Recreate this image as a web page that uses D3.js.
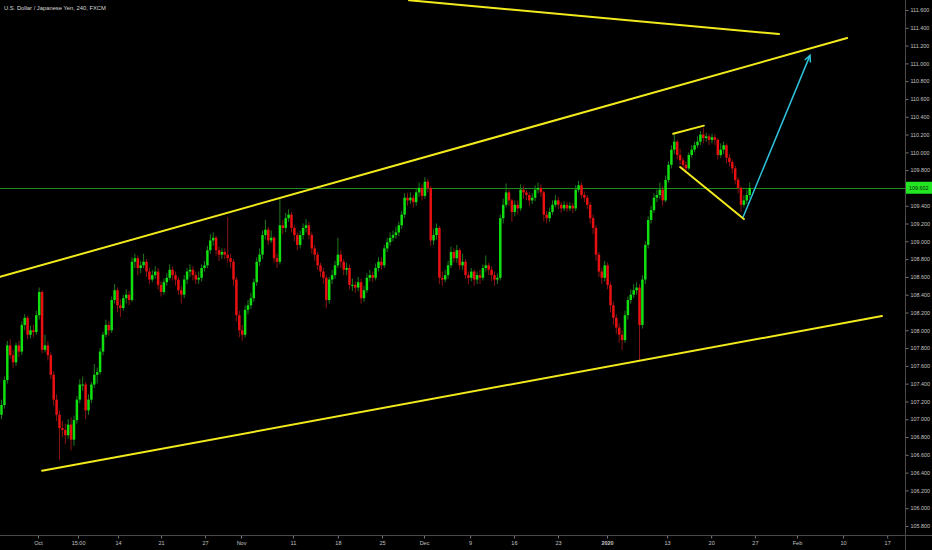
<!DOCTYPE html>
<html>
<head>
<meta charset="utf-8">
<script src="https://cdn.jsdelivr.net/npm/d3@7"></script>
<style>
  html, body { margin: 0; padding: 0; background: #000; }
  svg { display: block; }
</style>
</head>
<body>
<script>
// ---- DATA (USD/JPY, 8h candles) ----
const opens = [
107.05,107.16,107.44,107.83,107.72,107.64,107.83,107.76,108.06,108.14,
107.95,108.00,107.98,108.17,108.43,107.78,107.83,107.72,107.50,107.22,
107.05,106.90,106.88,106.82,106.94,106.77,106.99,107.22,107.39,107.39,
107.10,107.22,107.39,107.50,107.53,107.76,107.95,108.06,108.00,108.34,
108.45,108.28,108.25,108.36,108.40,108.34,108.77,108.81,108.70,108.73,
108.77,108.66,108.57,108.62,108.66,108.51,108.43,108.54,108.59,108.68,
108.62,108.57,108.45,108.40,108.57,108.66,108.68,108.62,108.57,108.59,
108.70,108.73,108.90,109.01,109.04,108.90,108.85,108.88,108.85,108.81,
108.77,108.57,108.17,108.00,107.95,108.23,108.28,108.36,108.54,108.77,
108.85,109.07,109.13,109.01,109.04,108.81,108.77,109.18,109.15,109.26,
109.30,109.15,109.07,108.96,109.07,109.15,109.18,109.07,108.92,108.85,
108.73,108.66,108.59,108.34,108.57,108.62,108.73,108.85,108.77,108.68,
108.70,108.51,108.51,108.48,108.54,108.36,108.45,108.59,108.62,108.59,
108.70,108.77,108.73,108.92,108.99,109.04,109.07,109.10,109.18,109.30,
109.49,109.46,109.49,109.44,109.55,109.60,109.51,109.67,109.60,109.01,
109.07,109.15,108.59,108.57,108.62,108.73,108.88,108.81,108.90,108.73,
108.77,108.62,108.59,108.66,108.57,108.62,108.59,108.70,108.73,108.68,
108.62,108.57,108.59,109.26,109.41,109.55,109.46,109.33,109.41,109.37,
109.58,109.55,109.52,109.46,109.49,109.58,109.60,109.55,109.30,109.26,
109.33,109.41,109.46,109.41,109.37,109.41,109.37,109.40,109.37,109.58,
109.63,109.52,109.49,109.41,109.26,109.15,108.85,108.66,108.59,108.73,
108.51,108.28,108.14,108.03,107.95,107.89,108.17,108.34,108.40,108.45,
108.48,108.06,108.57,108.96,109.24,109.35,109.49,109.52,109.58,109.46,
109.69,109.86,110.03,110.12,109.97,109.91,109.86,109.82,109.97,110.03,
110.08,110.12,110.20,110.16,110.18,110.14,110.17,110.14,109.97,110.03,
110.08,109.94,109.89,109.82,109.69,109.60,109.41,109.46,109.52];

const closes = [
107.16,107.44,107.83,107.72,107.64,107.83,107.76,108.06,108.14,107.95,
108.00,107.98,108.17,108.43,107.78,107.83,107.72,107.50,107.22,107.05,
106.90,106.88,106.82,106.94,106.77,106.99,107.22,107.39,107.39,107.10,
107.22,107.39,107.50,107.53,107.76,107.95,108.06,108.00,108.34,108.45,
108.28,108.25,108.36,108.40,108.34,108.77,108.81,108.70,108.73,108.77,
108.66,108.57,108.62,108.66,108.51,108.43,108.54,108.59,108.68,108.62,
108.57,108.45,108.40,108.57,108.66,108.68,108.62,108.57,108.59,108.70,
108.73,108.90,109.01,109.04,108.90,108.85,108.88,108.85,108.81,108.77,
108.57,108.17,108.00,107.95,108.23,108.28,108.36,108.54,108.77,108.85,
109.07,109.13,109.01,109.04,108.81,108.77,109.18,109.15,109.26,109.30,
109.15,109.07,108.96,109.07,109.15,109.18,109.07,108.92,108.85,108.73,
108.66,108.59,108.34,108.57,108.62,108.73,108.85,108.77,108.68,108.70,
108.51,108.51,108.48,108.54,108.36,108.45,108.59,108.62,108.59,108.70,
108.77,108.73,108.92,108.99,109.04,109.07,109.10,109.18,109.30,109.49,
109.46,109.49,109.44,109.55,109.60,109.51,109.67,109.60,109.01,109.07,
109.15,108.59,108.57,108.62,108.73,108.88,108.81,108.90,108.73,108.77,
108.62,108.59,108.66,108.57,108.62,108.59,108.70,108.73,108.68,108.62,
108.57,108.59,109.26,109.41,109.55,109.46,109.33,109.41,109.37,109.58,
109.55,109.52,109.46,109.49,109.58,109.60,109.55,109.30,109.26,109.33,
109.41,109.46,109.41,109.37,109.41,109.37,109.40,109.37,109.58,109.63,
109.52,109.49,109.41,109.26,109.15,108.85,108.66,108.59,108.73,108.51,
108.28,108.14,108.03,107.95,107.89,108.17,108.34,108.40,108.45,108.48,
108.06,108.57,108.96,109.24,109.35,109.49,109.52,109.58,109.46,109.69,
109.86,110.03,110.12,109.97,109.91,109.86,109.82,109.97,110.03,110.08,
110.12,110.20,110.16,110.18,110.14,110.17,110.14,109.97,110.03,110.08,
109.94,109.89,109.82,109.69,109.60,109.41,109.46,109.52,109.60];

const highs = [
107.22,107.48,107.88,107.90,107.78,107.86,107.88,108.10,108.18,108.16,
108.05,108.06,108.22,108.48,108.45,107.95,107.88,107.75,107.54,107.28,
107.10,106.98,106.95,107.00,107.02,107.04,107.26,107.45,107.48,107.42,
107.28,107.42,107.62,107.58,107.80,107.98,108.12,108.10,108.38,108.52,
108.48,108.35,108.40,108.46,108.44,108.82,108.86,108.84,108.78,108.86,
108.80,108.70,108.68,108.72,108.70,108.55,108.58,108.64,108.74,108.72,
108.66,108.60,108.50,108.62,108.70,108.74,108.72,108.66,108.66,108.74,
108.78,108.95,109.08,109.10,109.06,108.94,108.92,108.92,109.27,108.86,
108.80,108.60,108.22,108.06,108.28,108.34,108.42,108.58,108.82,108.92,
109.12,109.24,109.16,109.12,109.06,108.86,109.49,109.24,109.32,109.36,
109.33,109.18,109.10,109.12,109.20,109.25,109.22,109.10,108.96,108.88,
108.76,108.70,108.62,108.60,108.68,108.78,109.04,108.90,108.80,108.76,
108.74,108.58,108.55,108.60,108.58,108.50,108.64,108.68,108.66,108.75,
108.82,108.82,108.96,109.04,109.10,109.12,109.16,109.22,109.34,109.54,
109.54,109.55,109.52,109.60,109.66,109.64,109.72,109.70,109.62,109.14,
109.20,109.17,108.66,108.68,108.78,108.94,108.92,108.96,108.92,108.86,
108.80,108.66,108.70,108.68,108.66,108.68,108.74,108.84,108.76,108.72,
108.66,108.64,109.30,109.48,109.65,109.58,109.48,109.46,109.46,109.64,
109.62,109.58,109.55,109.54,109.63,109.66,109.64,109.57,109.34,109.38,
109.46,109.52,109.50,109.44,109.45,109.44,109.44,109.43,109.63,109.68,
109.66,109.56,109.52,109.44,109.30,109.18,108.88,108.70,108.78,108.76,
108.54,108.32,108.18,108.08,108.00,108.22,108.38,108.46,108.52,108.54,
108.52,108.62,109.00,109.28,109.40,109.54,109.58,109.66,109.62,109.74,
109.90,110.08,110.20,110.14,110.04,109.94,109.90,110.00,110.08,110.12,
110.18,110.24,110.28,110.22,110.21,110.21,110.20,110.16,110.10,110.12,
110.10,109.98,109.92,109.85,109.72,109.62,109.52,109.58,109.66];

const lows = [
107.00,107.12,107.40,107.68,107.58,107.60,107.70,107.72,108.00,107.90,
107.91,107.92,107.95,108.12,107.74,107.75,107.66,107.45,107.15,106.98,
106.54,106.80,106.72,106.78,106.65,106.70,106.95,107.18,107.32,107.00,
107.05,107.18,107.35,107.40,107.50,107.72,107.92,107.94,107.97,108.30,
108.20,108.15,108.22,108.30,108.28,108.32,108.70,108.62,108.64,108.70,
108.60,108.52,108.54,108.58,108.46,108.38,108.40,108.50,108.56,108.56,
108.50,108.40,108.30,108.36,108.52,108.60,108.56,108.52,108.52,108.55,
108.66,108.70,108.86,108.95,108.84,108.78,108.80,108.80,108.76,108.70,
108.50,108.10,107.92,107.88,107.92,108.18,108.24,108.32,108.50,108.72,
108.80,109.02,108.96,108.98,108.76,108.70,108.74,109.08,109.10,109.22,
109.10,109.00,108.90,108.92,109.02,109.10,109.02,108.86,108.78,108.68,
108.60,108.52,108.25,108.30,108.52,108.58,108.70,108.70,108.62,108.62,
108.46,108.44,108.42,108.44,108.30,108.32,108.42,108.55,108.54,108.56,
108.66,108.68,108.70,108.88,108.95,109.00,109.03,109.06,109.14,109.26,
109.40,109.42,109.38,109.40,109.50,109.46,109.48,109.55,108.95,108.96,
109.02,108.52,108.50,108.54,108.58,108.70,108.76,108.76,108.68,108.68,
108.58,108.52,108.55,108.50,108.52,108.52,108.56,108.66,108.62,108.55,
108.50,108.52,108.56,109.20,109.38,109.40,109.22,109.28,109.30,109.34,
109.48,109.46,109.40,109.42,109.45,109.54,109.50,109.22,109.20,109.22,
109.30,109.38,109.36,109.32,109.34,109.33,109.34,109.32,109.34,109.55,
109.48,109.44,109.36,109.20,109.08,108.78,108.60,108.52,108.55,108.46,
108.20,108.06,107.96,107.86,107.78,107.86,108.12,108.30,108.36,108.40,
107.65,108.02,108.52,108.92,109.20,109.32,109.44,109.48,109.40,109.44,
109.66,109.82,109.98,109.92,109.86,109.80,109.79,109.80,109.94,110.00,
110.05,110.08,110.10,110.12,110.08,110.10,110.08,109.92,109.94,109.98,
109.88,109.84,109.76,109.64,109.54,109.33,109.38,109.42,109.48];

const priceTicks = [111.6,111.4,111.2,111.0,110.8,110.6,110.4,110.2,110.0,109.8,109.6,109.4,109.2,109.0,
  108.8,108.6,108.4,108.2,108.0,107.8,107.6,107.4,107.2,107.0,106.8,106.6,106.4,106.2,106.0,105.8];
const lastPrice = 109.602;
const lastPriceLabel = "109.602";

// time axis: positions are measured in 8-hour bar indices
const timeTickLabels = ["Oct","15:00","14","21","27","Nov","11","18","25","Dec","9","16","23","2020","13","20","27","Feb","10","17"];
const timeTickPos = [12.6,26.4,40.2,55.0,70.2,82.6,100.5,116.0,131.2,145.7,161.6,176.7,191.9,208.8,229.5,244.7,259.8,274.3,290.2,305.4];

const title = "U.S. Dollar / Japanese Yen, 240, FXCM";

// drawings: [barIndex, price] pairs
const topLine      = [[140.5, 111.71], [268.1, 111.33]];
const upperChannel = [[-0.5, 108.60], [291.6, 111.285]];
const lowerChannel = [[14.0, 106.42], [303.6, 108.16]];
const wedgeTop     = [[231.6, 110.21], [242.2, 110.30]];
const wedgeBottom  = [[234.0, 109.835], [256.0, 109.25]];
const projection   = [[255.7, 109.27], [278.8, 111.09]];

// ---- CHART ----
const W = 932, H = 550;
const plotRight = 905, plotBottom = 535;

const svg = d3.select("body").append("svg").attr("width", W).attr("height", H);
svg.append("rect").attr("width", W).attr("height", H).attr("fill", "#000");

const x = d3.scaleLinear().domain([0, 320]).range([1.5, 929.5]);
const y = d3.scaleLinear().domain([105.8, 111.6]).range([526, 10]);

svg.append("defs").append("clipPath").attr("id", "plot")
  .append("rect").attr("x", 0).attr("y", 0).attr("width", plotRight).attr("height", plotBottom);

const plot = svg.append("g").attr("clip-path", "url(#plot)");

// last price line
plot.append("line")
  .attr("x1", 0).attr("x2", plotRight)
  .attr("y1", Math.round(y(lastPrice)) + 0.5).attr("y2", Math.round(y(lastPrice)) + 0.5)
  .attr("stroke", "#1f8a1f").attr("stroke-width", 1);

// candles
const bars = d3.range(closes.length).map(i => ({i, o: opens[i], c: closes[i], h: highs[i], l: lows[i]}));
const cg = plot.append("g");
cg.selectAll("line.wick").data(bars).join("line")
  .attr("class", "wick")
  .attr("x1", d => x(d.i)).attr("x2", d => x(d.i))
  .attr("y1", d => y(d.h)).attr("y2", d => y(d.l))
  .attr("stroke", d => d.c >= d.o ? "#1e7a1e" : "#8a1414")
  .attr("stroke-width", 1);
cg.selectAll("rect.body").data(bars).join("rect")
  .attr("class", "body")
  .attr("x", d => x(d.i) - 1.25).attr("width", 2.5)
  .attr("y", d => y(Math.max(d.o, d.c)))
  .attr("height", d => Math.max(1, Math.abs(y(d.o) - y(d.c))))
  .attr("fill", d => d.c >= d.o ? "#10e010" : "#e81010");

// drawings
const lineGen = d3.line().x(d => x(d[0])).y(d => y(d[1]));
[topLine, upperChannel, lowerChannel, wedgeTop, wedgeBottom].forEach(seg => {
  plot.append("path").attr("d", lineGen(seg))
    .attr("stroke", "#f2ea1c").attr("stroke-width", 2).attr("fill", "none")
    .attr("stroke-linecap", "round");
});
plot.append("path").attr("d", lineGen(projection))
  .attr("stroke", "#2ec4de").attr("stroke-width", 1.5).attr("fill", "none");
{
  const x1 = x(projection[0][0]), y1 = y(projection[0][1]);
  const x2 = x(projection[1][0]), y2 = y(projection[1][1]);
  const ang = Math.atan2(y2 - y1, x2 - x1);
  const len = 7, spread = Math.PI / 7;
  const p = [[x2 - len * Math.cos(ang - spread), y2 - len * Math.sin(ang - spread)], [x2, y2],
             [x2 - len * Math.cos(ang + spread), y2 - len * Math.sin(ang + spread)]];
  plot.append("path").attr("d", d3.line()(p))
    .attr("stroke", "#2ec4de").attr("stroke-width", 1.5).attr("fill", "none");
}

// right price axis
const axisColor = "#4a4a4a";
const fontFam = "'Liberation Sans', Arial, sans-serif";
const yAxis = d3.axisRight(y).tickValues(priceTicks).tickFormat(d3.format(".3f")).tickSize(3).tickPadding(2);
const ya = svg.append("g").attr("transform", `translate(${plotRight + 0.5},0)`).call(yAxis);
ya.select(".domain").remove();
ya.selectAll(".tick line").attr("stroke", "#777");
ya.selectAll(".tick text").attr("fill", "#c4c4c4").attr("font-size", "5.4px").attr("font-family", fontFam);
svg.append("line").attr("x1", plotRight + 0.5).attr("x2", plotRight + 0.5).attr("y1", 0).attr("y2", H)
  .attr("stroke", axisColor).attr("stroke-width", 1);

// bottom time axis
const xAxis = d3.axisBottom(x).tickValues(timeTickPos)
  .tickFormat((d, i) => timeTickLabels[i]).tickSize(3).tickPadding(3);
const xa = svg.append("g").attr("transform", `translate(0,${plotBottom + 0.5})`).call(xAxis);
xa.select(".domain").remove();
xa.selectAll(".tick line").attr("stroke", "#777");
xa.selectAll(".tick text").attr("fill", "#c4c4c4").attr("font-size", "5.5px").attr("font-family", fontFam)
  .attr("font-weight", (d, i) => timeTickLabels[i] === "2020" ? "bold" : "normal");
svg.append("line").attr("x1", 0).attr("x2", W).attr("y1", plotBottom + 0.5).attr("y2", plotBottom + 0.5)
  .attr("stroke", axisColor).attr("stroke-width", 1);

// last price label
const ly = y(lastPrice);
svg.append("rect").attr("x", plotRight + 1).attr("y", ly - 6).attr("width", W - plotRight - 1).attr("height", 12)
  .attr("fill", "#22e622");
svg.append("text").attr("x", plotRight + 4).attr("y", ly).attr("dy", "0.35em")
  .attr("fill", "#0b2a0b").attr("font-size", "5.4px").attr("font-family", fontFam).text(lastPriceLabel);

// title
svg.append("text").attr("x", 4).attr("y", 10).attr("fill", "#d8d8d8")
  .attr("font-size", "5.8px").attr("font-family", fontFam).text(title);
</script>
</body>
</html>
